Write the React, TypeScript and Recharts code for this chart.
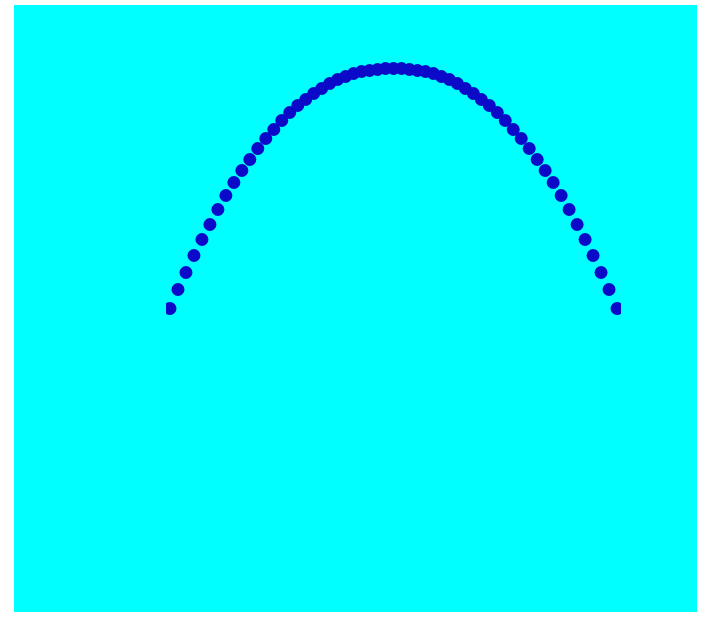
import { ScatterChart, Scatter, XAxis, YAxis } from 'recharts'

// horizontal step index of each dot, left to right
const steps = [
  -28, -27, -26, -25, -24, -23, -22, -21, -20, -19, -18, -17, -16, -15, -14,
  -13, -12, -11, -10, -9, -8, -7, -6, -5, -4, -3, -2, -1, 0, 1, 2, 3, 4, 5,
  6, 7, 8, 9, 10, 11, 12, 13, 14, 15, 16, 17, 18, 19, 20, 21, 22, 23, 24, 25,
  26, 27, 28,
]

// height of each dot above the end points
const heights = [
  0, 19, 36, 53, 69, 84, 99, 113, 126, 138, 149, 160, 170, 179, 188, 196, 203,
  209, 215, 220, 225, 229, 232, 235, 237, 238, 239, 240, 240, 240, 239, 238,
  237, 235, 232, 229, 225, 220, 215, 209, 203, 196, 188, 179, 170, 160, 149,
  138, 126, 113, 99, 84, 69, 53, 36, 19, 0,
]

const points = steps.map((x, i) => ({ x, y: heights[i] }))

const Dot = (props: any) => (
  <circle cx={props.cx} cy={props.cy} r={6.5} fill="#0a0ac8" />
)

export default function App() {
  return (
    <div style={{ position: 'absolute', left: 0, top: 0, width: 701, height: 617, background: '#fff' }}>
      <div style={{ position: 'absolute', left: 14, top: 5, width: 683, height: 607, background: '#00ffff' }} />
      <div style={{ position: 'absolute', left: 0, top: 0 }}>
        <ScatterChart width={701} height={617} margin={{ top: 0, right: 80, bottom: 0, left: 166 }}>
          <XAxis type="number" dataKey="x" hide domain={[-28.5, 28.5]} allowDataOverflow />
          <YAxis type="number" dataKey="y" hide domain={[-308.5, 308.5]} allowDataOverflow />
          <Scatter data={points} shape={Dot} isAnimationActive={false} />
        </ScatterChart>
      </div>
    </div>
  )
}
